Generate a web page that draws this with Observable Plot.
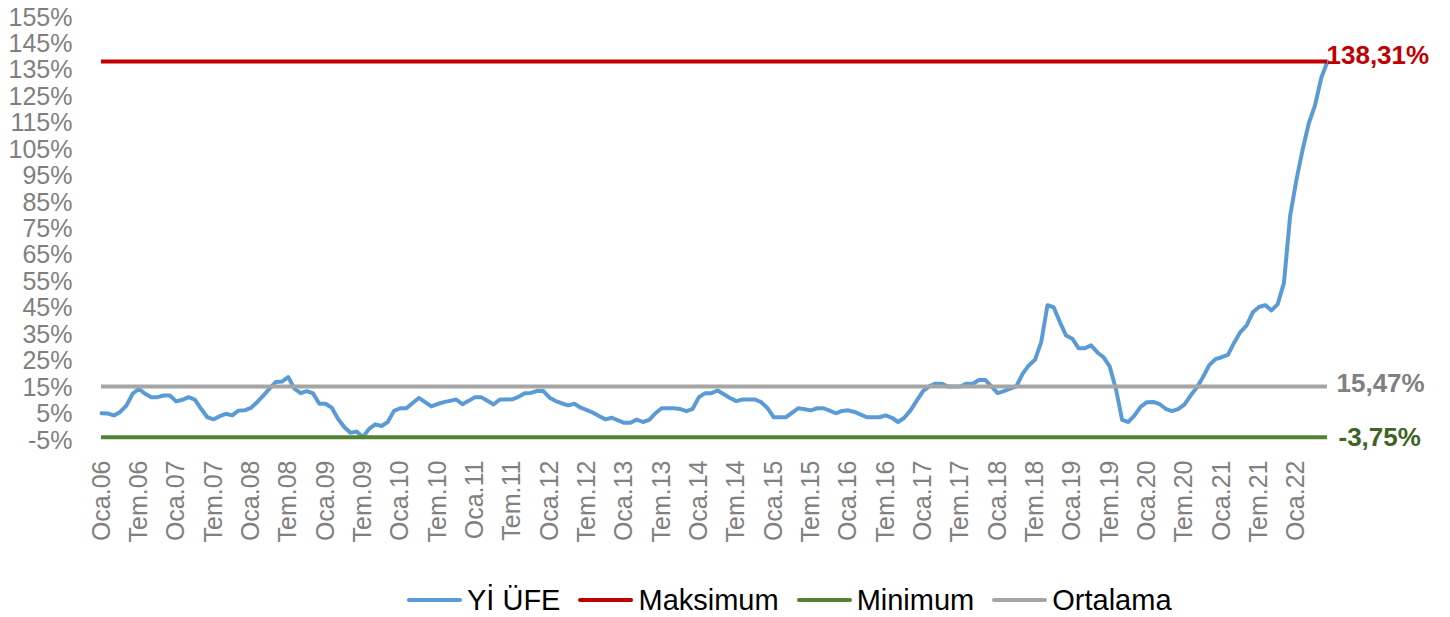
<!DOCTYPE html>
<html><head><meta charset="utf-8">
<script src="https://cdn.jsdelivr.net/npm/d3@7"></script>
<script src="https://cdn.jsdelivr.net/npm/@observablehq/plot@0.6"></script>
<style>
html,body{margin:0;padding:0;background:#fff;}
body{width:1450px;height:617px;overflow:hidden;position:relative;}
#chart{position:absolute;left:0;top:0;}
#legend{position:absolute;left:407px;top:584px;display:flex;align-items:center;font-family:"Liberation Sans",Arial,sans-serif;font-size:29px;color:#000;white-space:nowrap;line-height:32px;}
.item{display:flex;align-items:center;margin-right:18px;}
.sw{width:55px;height:4px;margin-right:5px;border-radius:2px;}
</style></head><body>
<div id="chart"></div>
<div id="legend"></div>
<script>
// Monthly annual change of Yİ-ÜFE (%), Jan 2006 – Jun 2022
const startYear = 2006;
const yiufe = [
  5.3, 5.2, 4.5, 5.8, 8.2, 12.7, 14.6, 12.7, 11.4, 11.4, 12.0, 12.0,
  9.8, 10.4, 11.4, 10.5, 7.0, 3.8, 3.0, 4.2, 5.1, 4.5, 6.3, 6.4,
  7.3, 9.5, 12.0, 14.6, 17.1, 17.3, 19.0, 14.6, 12.9, 13.7, 12.8, 8.9,
  8.9, 7.4, 3.2, 0.1, -2.1, -1.6, -3.75, -0.6, 1.1, 0.5, 2.0, 6.2,
  7.2, 7.2, 9.2, 11.1, 9.5, 7.9, 8.8, 9.5, 10.0, 10.5, 8.7, 10.0,
  11.4, 11.4, 10.0, 8.6, 10.5, 10.5, 10.6, 11.5, 12.9, 13.0, 13.8, 13.7,
  11.2, 9.9, 9.0, 8.3, 8.9, 7.4, 6.5, 5.5, 4.2, 3.0, 3.6, 2.6,
  1.7, 1.7, 2.9, 2.0, 2.8, 5.3, 7.2, 7.2, 7.2, 6.9, 6.1, 7.0,
  11.4, 12.9, 12.9, 13.9, 12.5, 11.1, 9.9, 10.5, 10.5, 10.5, 9.5, 7.3,
  3.8, 3.8, 3.8, 5.5, 7.2, 6.8, 6.4, 7.2, 7.2, 6.3, 5.3, 6.2,
  6.4, 5.8, 4.8, 3.8, 3.8, 3.8, 4.5, 3.6, 2.0, 3.6, 6.4, 10.1,
  13.7, 15.5, 16.5, 16.5, 15.4, 15.4, 15.4, 16.5, 16.5, 17.9, 17.9, 15.47,
  12.9, 13.7, 14.6, 15.5, 20.2, 23.4, 25.5, 32.2, 46.15, 45.4, 39.8, 34.7,
  33.5, 29.9, 29.9, 31.0, 28.4, 26.5, 23.0, 14.5, 2.8, 2.0, 4.5, 7.8,
  9.5, 9.6, 8.8, 7.0, 6.1, 6.9, 8.6, 12.0, 15.0, 19.0, 23.5, 25.8,
  26.5, 27.4, 32.0, 36.0, 38.5, 43.5, 45.5, 46.2, 44.2, 46.6, 54.6, 80.0,
  93.5, 105.0, 115.0, 121.8, 132.2, 138.31
];
const maksimum = 138.31;
const minimum = -3.75;
const ortalama = 15.47;
const monthNames = ["Oca","Şub","Mar","Nis","May","Haz","Tem","Ağu","Eyl","Eki","Kas","Ara"];
const yTicks = [-5, 5, 15, 25, 35, 45, 55, 65, 75, 85, 95, 105, 115, 125, 135, 145, 155];
const seriesNames = ["Yİ ÜFE", "Maksimum", "Minimum", "Ortalama"];
const seriesColors = ["#5b9bd5", "#c00000", "#548235", "#a5a5a5"];
const labelColors = {max: "#c00000", min: "#3d6424", avg: "#808080"};

const n = yiufe.length;
const data = yiufe.map((v, i) => ({i, value: v}));
const xTicks = d3.range(0, n, 6);
const xLabel = i => monthNames[i % 12] + "." + String(startYear + Math.floor(i / 12)).slice(2);
const fmt = v => v.toFixed(2).replace(".", ",") + "%";
const refs = [
  {v: maksimum, color: seriesColors[1], lab: labelColors.max, dx: -1, dy: -6},
  {v: minimum, color: seriesColors[2], lab: labelColors.min, dx: 11, dy: 0},
  {v: ortalama, color: seriesColors[3], lab: labelColors.avg, dx: 9, dy: -3}
];

const plot = Plot.plot({
  width: 1450, height: 575,
  marginLeft: 101, marginRight: 123, marginTop: 17, marginBottom: 135,
  style: {fontFamily: "Liberation Sans, Arial, sans-serif", fontSize: "25px", color: "#808080", background: "#fff"},
  x: {domain: [0, n - 1], label: null},
  y: {domain: [-5, 155], label: null},
  marks: [
    Plot.axisY({ticks: yTicks, tickFormat: d => d + "%", tickSize: 0, tickPadding: 29, fontSize: 25, label: null}),
    Plot.axisX({ticks: xTicks, tickFormat: xLabel, tickRotate: -90, tickSize: 0, tickPadding: 20, fontSize: 25, label: null}),
    Plot.line(data, {x: "i", y: "value", stroke: seriesColors[0], strokeWidth: 4, strokeLinejoin: "round", strokeLinecap: "round"}),
    Plot.ruleY(refs, {y: "v", x1: 0, x2: n - 1, stroke: "color", strokeWidth: 4}),
    Plot.text(refs, {x: n - 1, y: "v", text: d => fmt(d.v), fill: "lab", textAnchor: "start", fontWeight: "bold", fontSize: 26})
  ]
});
document.getElementById("chart").appendChild(plot);
const texts = plot.querySelectorAll("g[aria-label='text'] text");
texts.forEach((t, k) => {
  const r = refs[k];
  t.setAttribute("transform", (t.getAttribute("transform") || "") + ` translate(${r.dx},${r.dy})`);
});

const legend = document.getElementById("legend");
seriesNames.forEach((name, k) => {
  const it = document.createElement("div");
  it.className = "item";
  const sw = document.createElement("div");
  sw.className = "sw";
  sw.style.background = seriesColors[k];
  const tx = document.createElement("span");
  tx.textContent = name;
  it.appendChild(sw); it.appendChild(tx);
  legend.appendChild(it);
});
</script>
</body></html>
